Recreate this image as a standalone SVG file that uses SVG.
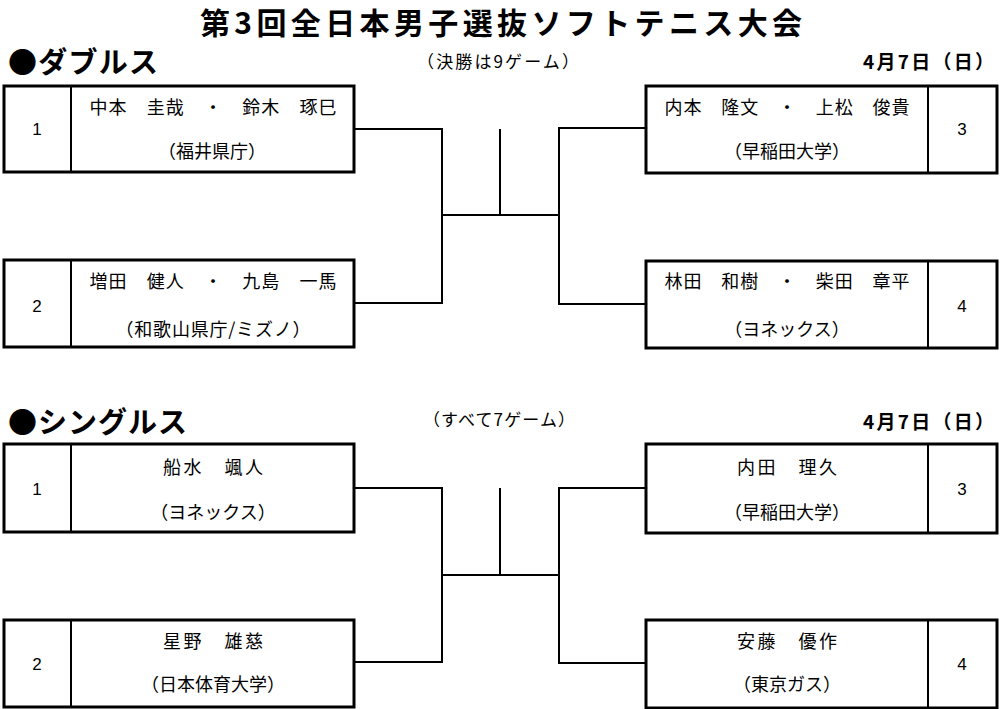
<svg xmlns="http://www.w3.org/2000/svg" width="1000" height="709" viewBox="0 0 1000 709">
<style>
text{font-family:"Noto Sans CJK JP","Liberation Sans",sans-serif;fill:#000}
.box{fill:#fff;stroke:#000;stroke-width:3}
.div{stroke:#000;stroke-width:2}
.nm{font-size:18px;text-anchor:middle}
.af{font-size:18px;text-anchor:middle}
.num{font-size:17px;text-anchor:middle;font-family:"Liberation Sans",sans-serif}
.hd{font-size:29px;font-weight:bold}
.note{font-size:17px;text-anchor:middle}
.date{font-size:19px;font-weight:bold;text-anchor:end}
.con{fill:none;stroke:#000;stroke-width:2}
</style>
<rect width="1000" height="709" fill="#fff"/>
<text x="501" y="34" font-size="30" font-weight="bold" text-anchor="middle" textLength="602" lengthAdjust="spacing">第3回全日本男子選抜ソフトテニス大会</text>

<text class="hd" x="8" y="73" textLength="150" lengthAdjust="spacing">●ダブルス</text>
<text class="note" x="498" y="68" textLength="162" lengthAdjust="spacing">（決勝は9ゲーム）</text>
<text class="date" x="994" y="69" textLength="131" lengthAdjust="spacing">4月7日（日）</text>

<text class="hd" x="8" y="433" textLength="179" lengthAdjust="spacing">●シングルス</text>
<text class="note" x="499" y="426" textLength="152" lengthAdjust="spacing">（すべて7ゲーム）</text>
<text class="date" x="994" y="429" textLength="131" lengthAdjust="spacing">4月7日（日）</text>

<g id="connectors">
<polyline class="con" points="354,129 442,129 442,303 354,303"/>
<polyline class="con" points="646,128 559,128 559,304 646,304"/>
<line class="con" x1="442" y1="215" x2="559" y2="215"/>
<line class="con" x1="500" y1="129" x2="500" y2="215"/>
<polyline class="con" points="354,488 442,488 442,662 354,662"/>
<polyline class="con" points="646,488 559,488 559,663 646,663"/>
<line class="con" x1="442" y1="575" x2="559" y2="575"/>
<line class="con" x1="500" y1="488" x2="500" y2="575"/>
</g>

<g id="d1">
<rect class="box" x="4" y="86" width="350" height="86"/>
<line class="div" x1="71" y1="86" x2="71" y2="172"/>
<text class="num" x="37" y="135">1</text>
<text class="nm" x="213" y="114" textLength="247" lengthAdjust="spacing">中本　圭哉　・　鈴木　琢巳</text>
<text class="af" x="212" y="158">（福井県庁）</text>
</g>
<g id="d2">
<rect class="box" x="4" y="260" width="350" height="87"/>
<line class="div" x1="71" y1="260" x2="71" y2="347"/>
<text class="num" x="37" y="312">2</text>
<text class="nm" x="213" y="288" textLength="247" lengthAdjust="spacing">増田　健人　・　九島　一馬</text>
<text class="af" x="213" y="336" textLength="195" lengthAdjust="spacing">（和歌山県庁/ミズノ）</text>
</g>
<g id="d3">
<rect class="box" x="646" y="86" width="351" height="87"/>
<line class="div" x1="928" y1="86" x2="928" y2="173"/>
<text class="num" x="962" y="135">3</text>
<text class="nm" x="787" y="114" textLength="245" lengthAdjust="spacing">内本　隆文　・　上松　俊貴</text>
<text class="af" x="787" y="158">（早稲田大学）</text>
</g>
<g id="d4">
<rect class="box" x="646" y="261" width="351" height="87"/>
<line class="div" x1="928" y1="261" x2="928" y2="348"/>
<text class="num" x="962" y="312">4</text>
<text class="nm" x="787" y="288" textLength="245" lengthAdjust="spacing">林田　和樹　・　柴田　章平</text>
<text class="af" x="787" y="336">（ヨネックス）</text>
</g>

<g id="s1">
<rect class="box" x="4" y="444" width="350" height="88"/>
<line class="div" x1="71" y1="444" x2="71" y2="532"/>
<text class="num" x="37" y="495">1</text>
<text class="nm" x="213" y="474" textLength="100" lengthAdjust="spacing">船水　颯人</text>
<text class="af" x="213" y="519">（ヨネックス）</text>
</g>
<g id="s2">
<rect class="box" x="4" y="620" width="350" height="87"/>
<line class="div" x1="71" y1="620" x2="71" y2="707"/>
<text class="num" x="37" y="670">2</text>
<text class="nm" x="213" y="648" textLength="100" lengthAdjust="spacing">星野　雄慈</text>
<text class="af" x="213" y="691">（日本体育大学）</text>
</g>
<g id="s3">
<rect class="box" x="646" y="444" width="351" height="89"/>
<line class="div" x1="928" y1="444" x2="928" y2="533"/>
<text class="num" x="962" y="495">3</text>
<text class="nm" x="787" y="474" textLength="100" lengthAdjust="spacing">内田　理久</text>
<text class="af" x="787" y="519">（早稲田大学）</text>
</g>
<g id="s4">
<rect class="box" x="646" y="620" width="351" height="88"/>
<line class="div" x1="928" y1="620" x2="928" y2="708"/>
<text class="num" x="962" y="670">4</text>
<text class="nm" x="787" y="648" textLength="100" lengthAdjust="spacing">安藤　優作</text>
<text class="af" x="787" y="691">（東京ガス）</text>
</g>
</svg>
